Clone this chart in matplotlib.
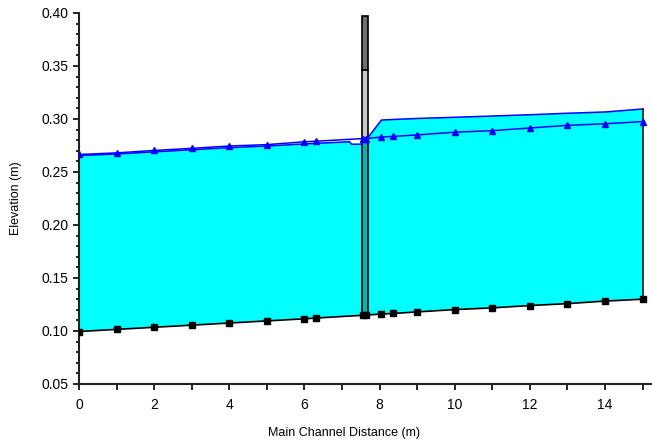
import numpy as np
import matplotlib.pyplot as plt
from matplotlib.ticker import MultipleLocator

plt.rcParams['font.family'] = ['Liberation Sans', 'DejaVu Sans']

# ground (black squares)
bed_x = [0, 1, 2, 3, 4, 5, 6, 6.3, 7.55, 7.65, 8.05, 8.35, 9, 10, 11, 12, 13, 14, 15]
bed_y = [0.0995, 0.1015, 0.1035, 0.1055, 0.1075, 0.1095, 0.1115, 0.1122, 0.1148, 0.1150,
         0.1160, 0.1165, 0.1180, 0.1202, 0.1218, 0.1240, 0.1258, 0.1282, 0.1300]

# filled water surface
ws_x = [0, 1, 2, 3, 4, 5, 6, 6.3, 7.2, 7.25, 7.52, 7.52, 7.68, 8.05, 8.35, 9, 10, 11, 12, 13, 14, 15]
ws_y = [0.2655, 0.2670, 0.2690, 0.2710, 0.2730, 0.2745, 0.2765, 0.2770, 0.2785, 0.2762, 0.2762,
        0.2810, 0.2820, 0.2990, 0.2995, 0.3005, 0.3016, 0.3028, 0.3040, 0.3054, 0.3066, 0.3094]

# second profile (blue triangles)
tri_x = [0, 1, 2, 3, 4, 5, 6, 6.3, 7.55, 7.65, 8.05, 8.35, 9, 10, 11, 12, 13, 14, 15]
tri_y = [0.2665, 0.2680, 0.2703, 0.2723, 0.2745, 0.2758, 0.2785, 0.2790, 0.2815, 0.2815,
         0.2830, 0.2835, 0.2850, 0.2875, 0.2890, 0.2915, 0.2940, 0.2955, 0.2975]

# bridge
br_left, br_right = 7.52, 7.68
br_bottom, br_water, br_mid, br_top = 0.115, 0.281, 0.346, 0.397

fig = plt.figure(figsize=(6.52, 4.40), dpi=100)
ax = fig.add_axes([0.1212, 0.1273, 0.8788, 0.8432])

poly_x = np.concatenate([ws_x, bed_x[::-1]])
poly_y = np.concatenate([ws_y, bed_y[::-1]])
ax.fill(poly_x, poly_y, color='#00ffff', lw=0, zorder=1)
ax.plot(ws_x, ws_y, color='#0000ff', lw=1.1, zorder=3)
ax.plot([15, 15], [bed_y[-1], ws_y[-1]], color='black', lw=1.1, zorder=3)

# bridge deck and opening
w = br_right - br_left
ax.add_patch(plt.Rectangle((br_left, br_bottom), w, br_water - br_bottom,
                           facecolor='#10b0b0', edgecolor='black', lw=1.2, zorder=2))
ax.add_patch(plt.Rectangle((br_left, br_water), w, br_mid - br_water,
                           facecolor='#c8c8c8', edgecolor='black', lw=1.2, zorder=2))
ax.add_patch(plt.Rectangle((br_left, br_mid), w, br_top - br_mid,
                           facecolor='#707070', edgecolor='black', lw=1.2, zorder=2))

ax.plot(tri_x, tri_y, color='#0000ff', lw=1.1, marker='^', ms=5, zorder=4)
ax.plot(bed_x, bed_y, color='black', lw=1.2, marker='s', ms=5, zorder=5)

ax.set_xlim(0, 15.25)
ax.set_ylim(0.05, 0.40)
ax.xaxis.set_major_locator(MultipleLocator(2))
ax.xaxis.set_minor_locator(MultipleLocator(1))
ax.yaxis.set_major_locator(MultipleLocator(0.05))
ax.yaxis.set_minor_locator(MultipleLocator(0.01))
ax.yaxis.set_major_formatter(plt.FormatStrFormatter('%.2f'))

for s in ['top', 'right']:
    ax.spines[s].set_visible(False)
for s in ['left', 'bottom']:
    ax.spines[s].set_linewidth(1.5)
    ax.spines[s].set_color('#222222')

ax.tick_params(axis='both', which='major', labelsize=10, length=4, width=1.2, direction='out')
ax.tick_params(axis='x', which='minor', length=4, width=1.2)
ax.tick_params(axis='y', which='minor', length=2.5, width=1.2)
ax.tick_params(axis='x', pad=6)

ax.set_xlabel('Main Channel Distance (m)', fontsize=9)
ax.set_ylabel('Elevation (m)', fontsize=9)
ax.xaxis.set_label_coords(0.462, -0.115)
ax.yaxis.set_label_coords(-0.100, 0.5)

fig.savefig('out.png', dpi=100)
